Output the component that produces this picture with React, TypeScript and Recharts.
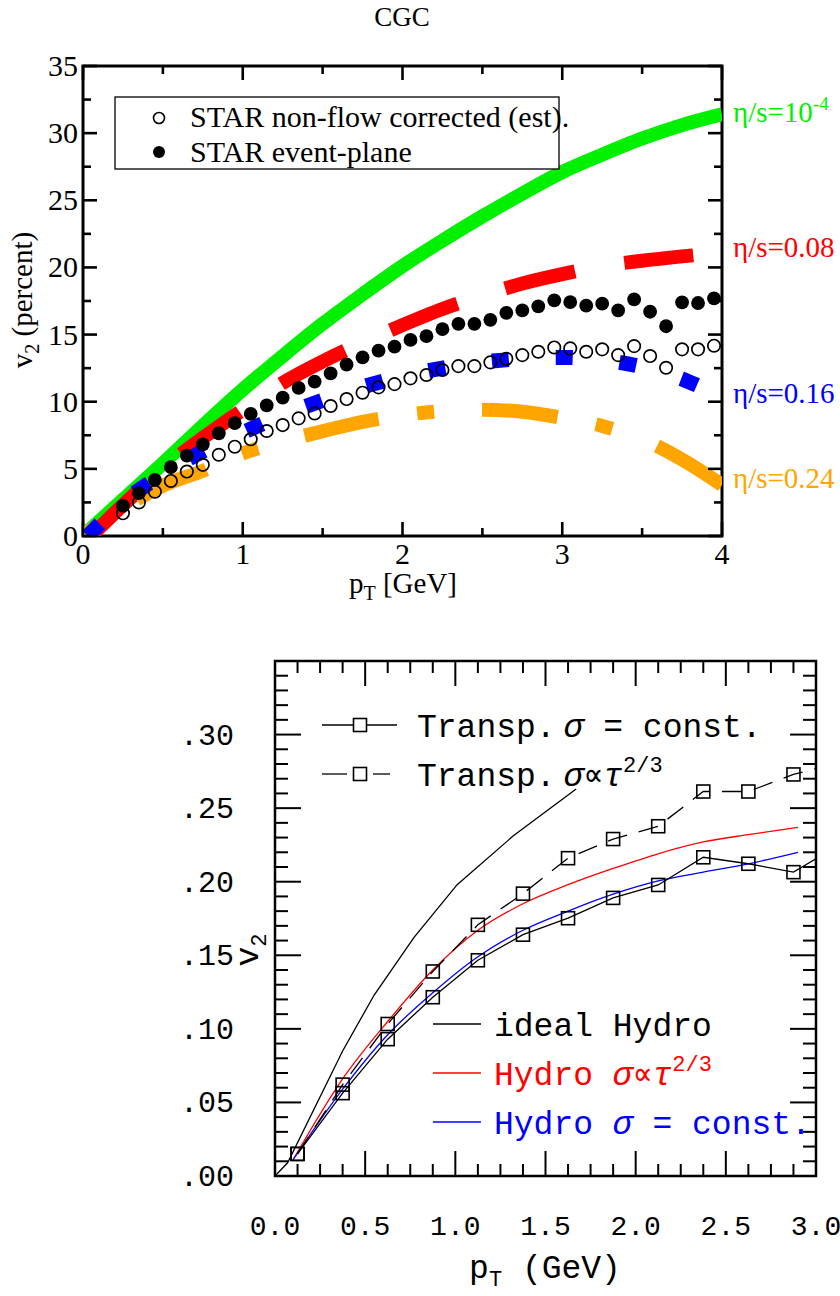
import React from 'react';
import { ComposedChart, Line, Scatter, XAxis, YAxis, ReferenceArea } from 'recharts';

// ---------- top panel (CGC), v2 in percent vs pT [GeV] ----------
const ETA_1E4_PT = [0, 0.25, 0.5, 0.75, 1, 1.25, 1.5, 1.75, 2, 2.25, 2.5, 2.75, 3, 3.25, 3.5, 3.75, 4];
const ETA_1E4_V2 = [0, 2.7, 5.4, 8.2, 10.9, 13.4, 15.8, 18.0, 20.1, 22.0, 23.8, 25.5, 27.1, 28.4, 29.6, 30.6, 31.4];

const ETA_008_PT = [0.05, 0.25, 0.5, 0.75, 1, 1.25, 1.5, 1.75, 2, 2.25, 2.5, 2.75, 3, 3.25, 3.5, 3.82];
const ETA_008_V2 = [0, 2.3, 5.0, 7.3, 9.4, 11.4, 13.0, 14.4, 15.7, 16.9, 17.9, 18.8, 19.5, 20.1, 20.5, 20.9];

const ETA_016_PT = [0.03, 0.25, 0.5, 0.75, 1, 1.25, 1.5, 1.75, 2, 2.25, 2.5, 2.75, 3, 3.25, 3.5, 3.75, 3.85];
const ETA_016_V2 = [0, 2.5, 4.6, 6.3, 7.7, 9.0, 10.1, 11.1, 11.9, 12.5, 12.95, 13.2, 13.3, 13.1, 12.6, 11.7, 11.2];

const ETA_024_PT = [0, 0.25, 0.5, 0.75, 1, 1.25, 1.5, 1.75, 2, 2.25, 2.5, 2.75, 3, 3.25, 3.5, 3.75, 4];
const ETA_024_V2 = [0, 2.1, 3.75, 4.85, 6.15, 7.05, 7.8, 8.5, 9.0, 9.3, 9.4, 9.25, 8.8, 8.2, 7.2, 5.7, 3.8];

const STAR_PT = [
  0.25, 0.35, 0.45, 0.55, 0.65, 0.75, 0.85, 0.95, 1.05, 1.15, 1.25, 1.35, 1.45, 1.55, 1.65, 1.75, 1.85, 1.95, 2.05,
  2.15, 2.25, 2.35, 2.45, 2.55, 2.65, 2.75, 2.85, 2.95, 3.05, 3.15, 3.25, 3.35, 3.45, 3.55, 3.65, 3.75, 3.85, 3.95,
];
const STAR_NONFLOW = [
  1.69, 2.5, 3.3, 4.1, 4.8, 5.3, 6.05, 6.65, 7.2, 7.82, 8.26, 8.76, 9.13, 9.68, 10.2, 10.67, 11.07, 11.31, 11.74,
  11.99, 12.36, 12.65, 12.65, 12.93, 13.2, 13.47, 13.72, 14.04, 13.97, 13.72, 13.9, 13.47, 14.14, 13.4, 12.53, 13.9, 13.9, 14.17,
];
const STAR_EP = [
  2.25, 3.2, 4.18, 5.12, 5.98, 6.83, 7.65, 8.4, 9.1, 9.72, 10.3, 11.03, 11.5, 12.11, 12.77, 13.3, 13.8, 14.1, 14.6,
  14.88, 15.4, 15.8, 15.8, 16.1, 16.62, 16.8, 17.1, 17.55, 17.42, 17.15, 17.3, 16.8, 17.62, 16.7, 15.62, 17.4, 17.35, 17.7,
];

const CGC_X_MAJOR = [0, 1, 2, 3, 4];
const CGC_X_LABELS = ['0', '1', '2', '3', '4'];
const CGC_Y_MAJOR = [0, 5, 10, 15, 20, 25, 30, 35];
const CGC_Y_LABELS = ['0', '5', '10', '15', '20', '25', '30', '35'];

// ---------- bottom panel, v2 vs pT (GeV) ----------
const IDEAL_PT = [0, 0.07, 0.375, 0.55, 0.77, 1.01, 1.32, 1.67];
const IDEAL_V2 = [0, 0.009, 0.085, 0.123, 0.162, 0.198, 0.231, 0.263];

const HYDRO_PT = [0.1, 0.375, 0.625, 0.875, 1.125, 1.375, 1.625, 1.875, 2.125, 2.375, 2.625, 2.9];
const HYDRO_TAU_V2 = [0.011, 0.066, 0.105, 0.14, 0.167, 0.185, 0.198, 0.209, 0.219, 0.227, 0.232, 0.237];
const HYDRO_CONST_V2 = [0.011, 0.059, 0.096, 0.1245, 0.149, 0.167, 0.18, 0.1915, 0.2005, 0.2065, 0.2122, 0.22];

const TRANSP_PT = [0.125, 0.375, 0.625, 0.875, 1.125, 1.375, 1.625, 1.875, 2.125, 2.375, 2.625, 2.875, 3.125];
const TRANSP_CONST_V2 = [0.015, 0.0563, 0.093, 0.1215, 0.1466, 0.164, 0.1752, 0.189, 0.1978, 0.2166, 0.2122, 0.2065, 0.2247];
const TRANSP_TAU_V2 = [0.015, 0.0621, 0.1033, 0.139, 0.1707, 0.1919, 0.216, 0.229, 0.2377, 0.2613, 0.2613, 0.2729, 0.281];

const TR_X_MAJOR = [0, 0.5, 1, 1.5, 2, 2.5, 3];
const TR_X_LABELS = ['0.0', '0.5', '1.0', '1.5', '2.0', '2.5', '3.0'];
const TR_Y_MAJOR = [0, 0.05, 0.1, 0.15, 0.2, 0.25, 0.3];
const TR_Y_LABELS = ['.00', '.05', '.10', '.15', '.20', '.25', '.30'];

// --- helpers ---
const pts = (xs: number[], ys: number[]) => xs.map((x, i) => ({ x, y: ys[i] }));
const steps = (from: number, to: number, step: number) => {
  const out: number[] = [];
  for (let v = from; v <= to + 1e-9; v += step) out.push(Math.round(v * 1000) / 1000);
  return out;
};
const majorIndex = (majors: number[], v: number) => majors.findIndex((m) => Math.abs(m - v) < 1e-6);

const SERIF = 'Liberation Serif, Times New Roman, serif';
const MONO = 'Liberation Mono, Courier New, monospace';

// plot box sizes (pixels)
const CGC_W = 639;
const CGC_H = 470;
const TR_W = 541;
const TR_H = 515;

// --- CGC ticks: inward on all four sides ---
function CgcXTick(props: any) {
  const { x, y, payload } = props;
  const idx = majorIndex(CGC_X_MAJOR, payload.value);
  const len = idx >= 0 ? 14 : 8;
  return (
    <g>
      <line x1={x} y1={y} x2={x} y2={y - len} stroke="#000" strokeWidth={2.6} />
      <line x1={x} y1={y - CGC_H} x2={x} y2={y - CGC_H + len} stroke="#000" strokeWidth={2.6} />
      {idx >= 0 && (
        <text x={x} y={y + 28} textAnchor="middle" fontFamily={SERIF} fontSize={30} fill="#000">
          {CGC_X_LABELS[idx]}
        </text>
      )}
    </g>
  );
}

function CgcYTick(props: any) {
  const { x, y, payload } = props;
  const idx = majorIndex(CGC_Y_MAJOR, payload.value);
  const len = idx >= 0 ? 14 : 8;
  return (
    <g>
      <line x1={x} y1={y} x2={x + len} y2={y} stroke="#000" strokeWidth={2.6} />
      <line x1={x + CGC_W} y1={y} x2={x + CGC_W - len} y2={y} stroke="#000" strokeWidth={2.6} />
      {idx >= 0 && (
        <text x={x - 5} y={y + 10} textAnchor="end" fontFamily={SERIF} fontSize={30} fill="#000">
          {CGC_Y_LABELS[idx]}
        </text>
      )}
    </g>
  );
}

const openCircle = (props: any) => (
  <circle cx={props.cx} cy={props.cy} r={6.2} fill="none" stroke="#000" strokeWidth={1.7} />
);
const filledCircle = (props: any) => <circle cx={props.cx} cy={props.cy} r={6.9} fill="#000" />;

function CgcChart() {
  return (
    <ComposedChart width={840} height={600} margin={{ top: 66, right: 118, bottom: 34, left: 43 }}>
      <XAxis
        type="number"
        dataKey="x"
        domain={[0, 4]}
        allowDataOverflow
        ticks={steps(0, 4, 0.5)}
        interval={0}
        height={30}
        tickSize={0}
        tickMargin={0}
        tickLine={false}
        axisLine={false}
        tick={CgcXTick}
      />
      <YAxis
        type="number"
        dataKey="y"
        domain={[0, 35]}
        allowDataOverflow
        ticks={steps(0, 35, 2.5)}
        interval={0}
        width={40}
        tickSize={0}
        tickMargin={0}
        tickLine={false}
        axisLine={false}
        tick={CgcYTick}
      />
      <Line data={pts(ETA_1E4_PT, ETA_1E4_V2)} dataKey="y" type="monotone" stroke="#00f000" strokeWidth={14}
        dot={false} isAnimationActive={false} />
      <Line data={pts(ETA_008_PT, ETA_008_V2)} dataKey="y" type="monotone" stroke="#ff0000" strokeWidth={14}
        strokeDasharray="72 50" dot={false} isAnimationActive={false} />
      <Scatter data={pts(STAR_PT, STAR_NONFLOW)} dataKey="y" shape={openCircle} isAnimationActive={false} />
      <Scatter data={pts(STAR_PT, STAR_EP)} dataKey="y" shape={filledCircle} isAnimationActive={false} />
      <Line data={pts(ETA_024_PT, ETA_024_V2)} dataKey="y" type="monotone" stroke="#ffa500" strokeWidth={14}
        strokeDasharray="17 48 76 39" dot={false} isAnimationActive={false} />
      <Line data={pts(ETA_016_PT, ETA_016_V2)} dataKey="y" type="monotone" stroke="#0000ff" strokeWidth={15}
        strokeDasharray="17 47" dot={false} isAnimationActive={false} />
      <ReferenceArea x1={0} x2={4} y1={0} y2={35} fill="none" stroke="#000" strokeWidth={3} />
    </ComposedChart>
  );
}

// --- transport panel ticks ---
function TrXTick(props: any) {
  const { x, y, payload } = props;
  const idx = majorIndex(TR_X_MAJOR, payload.value);
  const len = idx >= 0 ? 25 : 12;
  return (
    <g>
      <line x1={x} y1={y} x2={x} y2={y - len} stroke="#000" strokeWidth={2} />
      <line x1={x} y1={y - TR_H} x2={x} y2={y - TR_H + len} stroke="#000" strokeWidth={2} />
      {idx >= 0 && (
        <text x={x} y={y + 59} textAnchor="middle" fontFamily={MONO} fontSize={28} fill="#000">
          {TR_X_LABELS[idx]}
        </text>
      )}
    </g>
  );
}

function TrYTick(props: any) {
  const { x, y, payload } = props;
  const idx = majorIndex(TR_Y_MAJOR, payload.value);
  const len = idx >= 0 ? 26 : 13;
  return (
    <g>
      <line x1={x} y1={y} x2={x + len} y2={y} stroke="#000" strokeWidth={2} />
      <line x1={x + TR_W} y1={y} x2={x + TR_W - len} y2={y} stroke="#000" strokeWidth={2} />
      {idx >= 0 && (
        <text x={x - 41} y={y + 10} textAnchor="end" fontFamily={MONO} fontSize={30} fill="#000">
          {TR_Y_LABELS[idx]}
        </text>
      )}
    </g>
  );
}

const squareDot = (props: any) => {
  const { cx, cy, payload, index } = props;
  if (cx == null || payload.x > 3) return <g key={`s-${index}`} />;
  return (
    <rect key={`s-${index}`} x={cx - 6.5} y={cy - 6.5} width={13} height={13} fill="none" stroke="#000" strokeWidth={1.6} />
  );
};

function TransportChart() {
  return (
    <ComposedChart width={840} height={696} margin={{ top: 61, right: 24, bottom: 90, left: 235 }}>
      <XAxis
        type="number"
        dataKey="x"
        domain={[0, 3]}
        allowDataOverflow
        ticks={steps(0, 3, 0.125)}
        interval={0}
        height={30}
        tickSize={0}
        tickMargin={0}
        tickLine={false}
        axisLine={false}
        tick={TrXTick}
      />
      <YAxis
        type="number"
        dataKey="y"
        domain={[0, 0.35]}
        allowDataOverflow
        ticks={steps(0, 0.35, 0.01)}
        interval={0}
        width={40}
        tickSize={0}
        tickMargin={0}
        tickLine={false}
        axisLine={false}
        tick={TrYTick}
      />
      <Line data={pts(IDEAL_PT, IDEAL_V2)} dataKey="y" type="linear" stroke="#000" strokeWidth={1.3}
        dot={false} isAnimationActive={false} />
      <Line data={pts(HYDRO_PT, HYDRO_TAU_V2)} dataKey="y" type="monotone" stroke="#ff0000" strokeWidth={1.3}
        dot={false} isAnimationActive={false} />
      <Line data={pts(HYDRO_PT, HYDRO_CONST_V2)} dataKey="y" type="monotone" stroke="#0000ff" strokeWidth={1.3}
        dot={false} isAnimationActive={false} />
      <Line data={pts(TRANSP_PT, TRANSP_CONST_V2)} dataKey="y" type="linear" stroke="#000" strokeWidth={1.3}
        dot={squareDot} isAnimationActive={false} />
      <Line data={pts(TRANSP_PT, TRANSP_TAU_V2)} dataKey="y" type="linear" stroke="#000" strokeWidth={1.3}
        strokeDasharray="20 12" dot={squareDot} isAnimationActive={false} />
      <ReferenceArea x1={0} x2={3} y1={0} y2={0.35} fill="none" stroke="#000" strokeWidth={2.5} />
    </ComposedChart>
  );
}

// --- titles, legends and curve labels ---
function Overlay() {
  return (
    <svg width={840} height={1296} style={{ position: 'absolute', left: 0, top: 0, pointerEvents: 'none' }}>
      {/* top panel */}
      <text x={402} y={26} textAnchor="middle" fontFamily={SERIF} fontSize={27}>CGC</text>
      <text x={32} y={300} textAnchor="middle" fontFamily={SERIF} fontSize={29} transform="rotate(-90, 32, 300)">
        v<tspan dy={7} fontSize={20}>2</tspan><tspan dy={-7}> (percent)</tspan>
      </text>
      <text x={403} y={593} textAnchor="middle" fontFamily={SERIF} fontSize={29}>
        p<tspan dy={7} fontSize={20}>T</tspan><tspan dy={-7}> [GeV]</tspan>
      </text>
      <rect x={115} y={97} width={444} height={72} fill="#fff" stroke="#000" strokeWidth={1.3} />
      <circle cx={159} cy={118} r={5.5} fill="none" stroke="#000" strokeWidth={1.6} />
      <circle cx={159} cy={152} r={6} fill="#000" />
      <text x={190} y={127} fontFamily={SERIF} fontSize={30}>STAR non-flow corrected (est).</text>
      <text x={190} y={162} fontFamily={SERIF} fontSize={30}>STAR event-plane</text>
      <text x={733} y={122} fontFamily={SERIF} fontSize={29} fill="#00f000">
        η/s=10<tspan dy={-12} fontSize={19}>-4</tspan>
      </text>
      <text x={733} y={257} fontFamily={SERIF} fontSize={29} fill="#ff0000">η/s=0.08</text>
      <text x={733} y={403} fontFamily={SERIF} fontSize={29} fill="#0000ff">η/s=0.16</text>
      <text x={733} y={488} fontFamily={SERIF} fontSize={29} fill="#ffa500">η/s=0.24</text>

      {/* bottom panel */}
      <text x={258} y={950} textAnchor="middle" fontFamily={MONO} fontSize={33} transform="rotate(-90, 258, 950)">
        v<tspan dy={8} fontSize={22}>2</tspan>
      </text>
      <text x={545} y={1278} textAnchor="middle" fontFamily={MONO} fontSize={33}>
        p<tspan dy={8} fontSize={22}>T</tspan><tspan dy={-8}> (GeV)</tspan>
      </text>

      <line x1={322} y1={725} x2={397} y2={725} stroke="#000" strokeWidth={1.3} />
      <rect x={353.5} y={718.5} width={13} height={13} fill="#fff" stroke="#000" strokeWidth={1.6} />
      <text x={417} y={737} fontFamily={MONO} fontSize={33}>
        Transp.<tspan dx={8} fontStyle="italic">σ</tspan> = const.
      </text>
      <line x1={322} y1={774} x2={347} y2={774} stroke="#000" strokeWidth={1.3} />
      <line x1={373} y1={774} x2={390} y2={774} stroke="#000" strokeWidth={1.3} />
      <rect x={353.5} y={767.5} width={13} height={13} fill="#fff" stroke="#000" strokeWidth={1.6} />
      <text x={417} y={786} fontFamily={MONO} fontSize={33}>
        Transp.<tspan dx={8} fontStyle="italic">σ∝τ</tspan><tspan dy={-14} fontSize={22}>2/3</tspan>
      </text>

      <line x1={433} y1={1024} x2={481} y2={1024} stroke="#000" strokeWidth={1.3} />
      <text x={494} y={1036} fontFamily={MONO} fontSize={33}>ideal Hydro</text>
      <line x1={433} y1={1073} x2={481} y2={1073} stroke="#ff0000" strokeWidth={1.3} />
      <text x={494} y={1085} fontFamily={MONO} fontSize={33} fill="#ff0000">
        Hydro <tspan fontStyle="italic">σ∝τ</tspan><tspan dy={-14} fontSize={22}>2/3</tspan>
      </text>
      <line x1={433} y1={1122} x2={481} y2={1122} stroke="#0000ff" strokeWidth={1.3} />
      <text x={494} y={1134} fontFamily={MONO} fontSize={33} fill="#0000ff">
        Hydro <tspan fontStyle="italic">σ</tspan> = const.
      </text>
    </svg>
  );
}

export default function App() {
  return (
    <div style={{ position: 'absolute', left: 0, top: 0, width: 840, height: 1296, background: '#fff' }}>
      <div style={{ position: 'absolute', left: 0, top: 0 }}>
        <CgcChart />
      </div>
      <div style={{ position: 'absolute', left: 0, top: 600 }}>
        <TransportChart />
      </div>
      <Overlay />
    </div>
  );
}
